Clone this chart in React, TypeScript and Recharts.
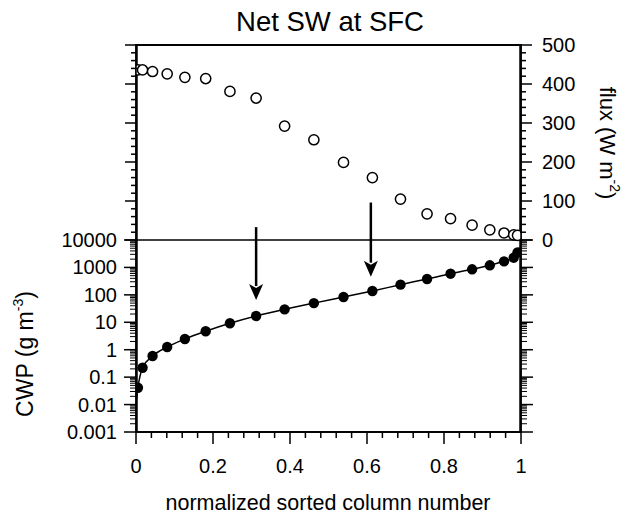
import React from 'react';
import { ComposedChart, XAxis, YAxis, Scatter, Line, ReferenceLine, ReferenceArea } from 'recharts';

// normalized sorted column positions of the plotted columns
const columnX = [0.005, 0.017, 0.043, 0.081, 0.127, 0.181, 0.244, 0.312, 0.386, 0.462, 0.539, 0.614, 0.687, 0.756, 0.817, 0.873, 0.919, 0.956, 0.981, 0.991];
// Net SW at SFC flux (W m-2), open circles
const fluxValues = [436, 436, 432, 426, 417, 414, 381, 364, 292, 257, 199, 160, 105, 67, 55, 38, 26, 18, 13, 12];
// CWP (g m-3), filled circles
const cwpValues = [0.041, 0.22, 0.59, 1.26, 2.46, 4.7, 9.2, 17, 29.6, 50, 83.6, 138, 235, 379, 591, 853, 1194, 1667, 2265, 3550];
// continuous CWP curve
const cwpLineX = [0, 0.005, 0.017, 0.043, 0.081, 0.127, 0.181, 0.244, 0.312, 0.386, 0.462, 0.539, 0.614, 0.687, 0.756, 0.817, 0.873, 0.919, 0.956, 0.981, 0.991, 1];
const cwpLineValues = [0.011, 0.041, 0.22, 0.59, 1.26, 2.46, 4.7, 9.2, 17, 29.6, 50, 83.6, 138, 235, 379, 591, 853, 1194, 1667, 2265, 3550, 5700];

// arrows (x position, start and tip expressed on the flux scale)
const arrowX = [0.312, 0.61];
const arrowFrom = [33, 96];
const arrowTo = [-154, -94];

// ticks
const xMajorTicks = [0, 0.2, 0.4, 0.6, 0.8, 1];
const xTickLabels = ['0', '0.2', '0.4', '0.6', '0.8', '1'];
const xMinorTicks = [0.04, 0.08, 0.12, 0.16, 0.24, 0.28, 0.32, 0.36, 0.44, 0.48, 0.52, 0.56, 0.64, 0.68, 0.72, 0.76, 0.84, 0.88, 0.92, 0.96];
const fluxMajorTicks = [0, 100, 200, 300, 400, 500];
const fluxTickLabels = ['0', '100', '200', '300', '400', '500'];
const fluxMinorTicks = [20, 40, 60, 80, 120, 140, 160, 180, 220, 240, 260, 280, 320, 340, 360, 380, 420, 440, 460, 480];
const cwpMajorTicks = [0.001, 0.01, 0.1, 1, 10, 100, 1000, 10000];
const cwpTickLabels = ['0.001', '0.01', '0.1', '1', '10', '100', '1000', '10000'];
const logMultipliers = [2, 3, 4, 5, 6, 7, 8, 9];

const cwpMinorTicks = cwpMajorTicks.slice(0, -1).flatMap((d) => logMultipliers.map((m) => m * d));

const fluxData = columnX.map((x, i) => ({ x, flux: fluxValues[i] }));
const cwpData = columnX.map((x, i) => ({ x, cwp: cwpValues[i] }));
const cwpLineData = cwpLineX.map((x, i) => ({ x, cwp: cwpLineValues[i] }));

const W = 627;
const H = 515;
const MARGIN = { top: 45, right: 106, bottom: 83, left: 136 };
const FONT = '"Liberation Sans", Arial, Helvetica, sans-serif';
const FLUX_DOMAIN = [-492.3, 500];
const CWP_DOMAIN = [0.001, 1.285e11];

const TS = 1.5; // tick stroke

const XBottomTick = (p: any) => {
  const v = p.payload.value;
  const idx = xMajorTicks.indexOf(v);
  const major = idx >= 0;
  return (
    <g>
      <line x1={p.x} y1={p.y} x2={p.x} y2={p.y + (major ? 12 : 6)} stroke="#000" strokeWidth={TS} />
      {major && (
        <text x={p.x} y={p.y + 41} textAnchor="middle" fontSize={20} fontFamily={FONT} fill="#000">
          {xTickLabels[idx]}
        </text>
      )}
    </g>
  );
};

const XTopTick = (p: any) => {
  const v = p.payload.value;
  const major = xMajorTicks.indexOf(v) >= 0;
  return <line x1={p.x} y1={p.y} x2={p.x} y2={p.y - (major ? 10 : 5)} stroke="#000" strokeWidth={TS} />;
};

const FluxRightTick = (p: any) => {
  const v = p.payload.value;
  const idx = fluxMajorTicks.indexOf(v);
  const major = idx >= 0;
  return (
    <g>
      <line x1={p.x} y1={p.y} x2={p.x + (major ? 12 : 6)} y2={p.y} stroke="#000" strokeWidth={TS} />
      {major && (
        <text x={p.x + 22} y={p.y + 7} textAnchor="start" fontSize={20} fontFamily={FONT} fill="#000">
          {fluxTickLabels[idx]}
        </text>
      )}
    </g>
  );
};

const FluxLeftTick = (p: any) => {
  const v = p.payload.value;
  const major = fluxMajorTicks.indexOf(v) >= 0;
  return <line x1={p.x} y1={p.y} x2={p.x - (major ? 12 : 6)} y2={p.y} stroke="#000" strokeWidth={TS} />;
};

const CwpLeftTick = (p: any) => {
  const v = p.payload.value;
  const idx = cwpMajorTicks.indexOf(v);
  const major = idx >= 0;
  return (
    <g>
      <line x1={p.x} y1={p.y} x2={p.x - (major ? 12 : 6)} y2={p.y} stroke="#000" strokeWidth={major ? TS : 1} />
      {major && (
        <text x={p.x - 19} y={p.y + 7} textAnchor="end" fontSize={20} fontFamily={FONT} fill="#000">
          {cwpTickLabels[idx]}
        </text>
      )}
    </g>
  );
};

const CwpRightTick = (p: any) => {
  const v = p.payload.value;
  const major = cwpMajorTicks.indexOf(v) >= 0;
  return <line x1={p.x} y1={p.y} x2={p.x + (major ? 12 : 6)} y2={p.y} stroke="#000" strokeWidth={major ? TS : 1} />;
};

const OpenCircle = (p: any) => (
  <circle cx={p.cx} cy={p.cy} r={5.1} fill="#fff" stroke="#000" strokeWidth={1.5} />
);
const FilledCircle = (p: any) => <circle cx={p.cx} cy={p.cy} r={5.2} fill="#000" stroke="none" />;

const Arrow = (p: any) => {
  const { x1, y1, x2, y2 } = p;
  const head = 16;
  const hw = 7;
  return (
    <g>
      <line x1={x1} y1={y1} x2={x2} y2={y2 - head + 2} stroke="#000" strokeWidth={2.5} />
      <polygon points={`${x2 - hw},${y2 - head} ${x2},${y2 - head + 4} ${x2 + hw},${y2 - head} ${x2},${y2}`} fill="#000" />
    </g>
  );
};

const yCommon = {
  type: 'number' as const,
  mirror: true,
  width: 1,
  allowDataOverflow: true,
  interval: 0 as const,
  tickSize: 0,
  tickMargin: 0,
  tickLine: false,
};

export default function App() {
  return (
    <div style={{ position: 'absolute', left: 0, top: 0, width: W, height: H, background: '#fff' }}>
      <ComposedChart width={W} height={H} margin={MARGIN}>
        <XAxis
          xAxisId="b"
          dataKey="x"
          type="number"
          orientation="bottom"
          mirror
          domain={[0, 1]}
          allowDataOverflow
          ticks={[...xMajorTicks, ...xMinorTicks]}
          interval={0}
          tickSize={0}
          tickMargin={0}
          tickLine={false}
          tick={XBottomTick}
          axisLine={{ stroke: '#000', strokeWidth: 1.5 }}
        />
        <XAxis
          xAxisId="t"
          type="number"
          orientation="top"
          mirror
          domain={[0, 1]}
          allowDataOverflow
          ticks={[...xMajorTicks, ...xMinorTicks]}
          interval={0}
          tickSize={0}
          tickMargin={0}
          tickLine={false}
          tick={XTopTick}
          axisLine={{ stroke: '#000', strokeWidth: 1.5 }}
        />
        <YAxis
          {...yCommon}
          yAxisId="flux"
          dataKey="flux"
          orientation="right"
          domain={FLUX_DOMAIN}
          ticks={[...fluxMajorTicks, ...fluxMinorTicks]}
          tick={FluxRightTick}
          axisLine={{ stroke: '#000', strokeWidth: 1.5 }}
        />
        <YAxis
          {...yCommon}
          yAxisId="fluxL"
          orientation="left"
          domain={FLUX_DOMAIN}
          ticks={[...fluxMajorTicks, ...fluxMinorTicks]}
          tick={FluxLeftTick}
          axisLine={{ stroke: '#000', strokeWidth: 1.5 }}
        />
        <YAxis
          {...yCommon}
          yAxisId="cwp"
          dataKey="cwp"
          scale="log"
          orientation="left"
          domain={CWP_DOMAIN}
          ticks={[...cwpMajorTicks, ...cwpMinorTicks]}
          tick={CwpLeftTick}
          axisLine={false}
        />
        <YAxis
          {...yCommon}
          yAxisId="cwpR"
          scale="log"
          orientation="right"
          domain={CWP_DOMAIN}
          ticks={[...cwpMajorTicks, ...cwpMinorTicks]}
          tick={CwpRightTick}
          axisLine={false}
        />
        <ReferenceArea
          xAxisId="b"
          yAxisId="flux"
          x1={0}
          x2={1}
          y1={FLUX_DOMAIN[0]}
          y2={FLUX_DOMAIN[1]}
          ifOverflow="visible"
          fill="none"
          fillOpacity={0}
          stroke="#000"
          strokeWidth={1.5}
          strokeOpacity={1}
        />
        <ReferenceLine xAxisId="b" yAxisId="flux" y={0} stroke="#000" strokeWidth={1.5} />
        {arrowX.map((x, i) => (
          <ReferenceLine
            key={i}
            xAxisId="b"
            yAxisId="flux"
            segment={[{ x, y: arrowFrom[i] }, { x, y: arrowTo[i] }]}
            shape={Arrow}
          />
        ))}
        <Line
          xAxisId="b"
          yAxisId="cwp"
          data={cwpLineData}
          dataKey="cwp"
          type="monotone"
          stroke="#000"
          strokeWidth={1.5}
          dot={false}
          isAnimationActive={false}
        />
        <Scatter xAxisId="b" yAxisId="cwp" data={cwpData} shape={FilledCircle} isAnimationActive={false} />
        <Scatter xAxisId="b" yAxisId="flux" data={fluxData} shape={OpenCircle} isAnimationActive={false} />
      </ComposedChart>
      <svg width={W} height={H} style={{ position: 'absolute', left: 0, top: 0, pointerEvents: 'none' }} fontFamily={FONT}>
        <rect
          x={MARGIN.left}
          y={MARGIN.top}
          width={W - MARGIN.left - MARGIN.right}
          height={H - MARGIN.top - MARGIN.bottom}
          fill="none"
          stroke="#000"
          strokeWidth={1.5}
        />
        <text x={330} y={31} textAnchor="middle" fontSize={27.5} fill="#000">Net SW at SFC</text>
        <text x={328} y={510} textAnchor="middle" fontSize={21.5} fill="#000">normalized sorted column number</text>
        <text transform="translate(600,143) rotate(90)" textAnchor="middle" fontSize={22} fill="#000">
          flux (W m<tspan dy={-10} fontSize={14}>-2</tspan><tspan dy={10}>)</tspan>
        </text>
        <text transform="translate(33,354) rotate(-90)" textAnchor="middle" fontSize={23} fill="#000">
          CWP (g m<tspan dy={-10} fontSize={14}>-3</tspan><tspan dy={10}>)</tspan>
        </text>
      </svg>
    </div>
  );
}
